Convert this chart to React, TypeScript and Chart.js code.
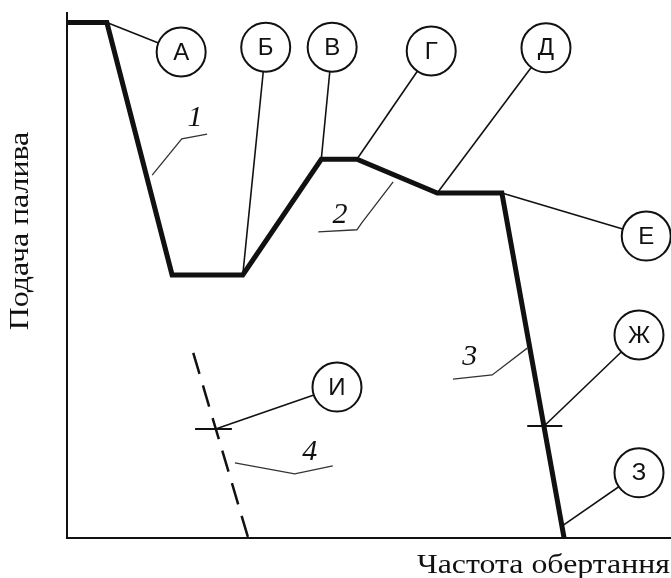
import { useEffect, useRef } from "react";
import { Chart, registerables } from "chart.js";
Chart.register(...registerables);

const W = 671;
const H = 578;

// Abstract units 0..100 on both axes (no numeric ticks on the original)
const mainX = [0, 6.6, 17.4, 29.1, 42.1, 48.0, 61.3, 72.0, 82.3];
const mainY = [98, 98, 50, 50, 72, 72, 65.6, 65.6, 0];

const dashX = [20.9, 30.0];
const dashY = [35.2, 0];

const tickIX = [21.2, 27.3];
const tickIY = 20.7;
const tickZhX = [76.2, 82.0];
const tickZhY = 21.3;

const calloutLetters = ["А", "Б", "В", "Г", "Д", "Е", "Ж", "З", "И"];
const calloutX = [18.9, 32.9, 43.9, 60.3, 79.3, 95.9, 94.7, 94.7, 44.7];
const calloutY = [92.4, 93.3, 93.3, 92.6, 93.2, 57.4, 38.6, 12.4, 28.7];
const anchorX = [6.6, 29.1, 42.1, 48.0, 61.3, 72.0, 79.0, 82.0, 24.6];
const anchorY = [98, 50, 72, 72, 65.6, 65.6, 21.3, 2.3, 20.7];

const curveLabels = ["1", "2", "3", "4"];
const curveLabelX = [21.2, 45.2, 66.7, 40.2];
const curveLabelY = [79.8, 61.4, 34.4, 16.3];
const curveLeaderX = [
  [14.1, 19.0, 23.2],
  [54.0, 48.8, 48.0, 41.6],
  [76.2, 70.4, 63.9],
  [27.8, 37.7, 44.0],
];
const curveLeaderY = [
  [69.0, 75.9, 76.8],
  [67.7, 59.9, 58.6, 58.2],
  [36.1, 31.0, 30.2],
  [14.3, 12.2, 13.7],
];

const xTitle = "Частота обертання";
const yTitle = "Подача палива";

const INK = "#111";

const pts = (xs: number[], ys: number[]) => xs.map((x, i) => ({ x, y: ys[i] }));

export default function App() {
  const ref = useRef<HTMLCanvasElement | null>(null);

  useEffect(() => {
    const canvas = ref.current;
    if (!canvas) return;

    const datasets: any[] = [];

    // callout circles (on top)
    datasets.push({
      data: pts(calloutX, calloutY),
      showLine: false,
      pointRadius: 24.5,
      pointBorderWidth: 2,
      pointBackgroundColor: "#fff",
      pointBorderColor: INK,
      order: 0,
      clip: false,
    });

    // main characteristic
    datasets.push({
      data: pts(mainX, mainY),
      showLine: true,
      borderColor: INK,
      borderWidth: 5,
      pointRadius: 0,
      borderJoinStyle: "miter",
      order: 1,
      clip: false,
    });

    // dashed line 4
    datasets.push({
      data: pts(dashX, dashY),
      showLine: true,
      borderColor: INK,
      borderWidth: 2.5,
      borderDash: [22, 12],
      pointRadius: 0,
      order: 1,
      clip: false,
    });

    // short cross ticks
    datasets.push({
      data: pts(tickIX, [tickIY, tickIY]),
      showLine: true,
      borderColor: INK,
      borderWidth: 2,
      pointRadius: 0,
      order: 1,
      clip: false,
    });
    datasets.push({
      data: pts(tickZhX, [tickZhY, tickZhY]),
      showLine: true,
      borderColor: INK,
      borderWidth: 2,
      pointRadius: 0,
      order: 1,
      clip: false,
    });

    // callout leaders
    calloutX.forEach((cx, i) => {
      datasets.push({
        data: [
          { x: anchorX[i], y: anchorY[i] },
          { x: cx, y: calloutY[i] },
        ],
        showLine: true,
        borderColor: INK,
        borderWidth: 1.6,
        pointRadius: 0,
        order: 2,
        clip: false,
      });
    });

    // curve number leaders
    curveLeaderX.forEach((xs, i) => {
      datasets.push({
        data: pts(xs, curveLeaderY[i]),
        showLine: true,
        borderColor: "#333",
        borderWidth: 1.3,
        pointRadius: 0,
        order: 2,
        clip: false,
      });
    });

    const textPlugin = {
      id: "diagramText",
      beforeDatasetsDraw(chart: any) {
        const { ctx } = chart;
        const xs = chart.scales.x;
        const ys = chart.scales.y;
        ctx.save();
        ctx.strokeStyle = INK;
        ctx.lineWidth = 2;
        ctx.beginPath();
        ctx.moveTo(xs.getPixelForValue(0), ys.getPixelForValue(100));
        ctx.lineTo(xs.getPixelForValue(0), ys.getPixelForValue(0));
        ctx.lineTo(xs.getPixelForValue(100), ys.getPixelForValue(0));
        ctx.stroke();
        ctx.restore();
      },
      afterDatasetsDraw(chart: any) {
        const { ctx, chartArea } = chart;
        const xs = chart.scales.x;
        const ys = chart.scales.y;
        ctx.save();
        ctx.fillStyle = INK;
        ctx.textAlign = "center";
        ctx.textBaseline = "middle";
        ctx.font = "24px 'Liberation Sans', Arial, sans-serif";
        calloutLetters.forEach((t, i) => {
          ctx.fillText(t, xs.getPixelForValue(calloutX[i]), ys.getPixelForValue(calloutY[i]) + 1);
        });
        ctx.font = "italic 30px 'Liberation Serif', serif";
        curveLabels.forEach((t, i) => {
          ctx.fillText(t, xs.getPixelForValue(curveLabelX[i]), ys.getPixelForValue(curveLabelY[i]));
        });
        ctx.restore();

        // axis titles (the original lettering is slightly wide)
        ctx.save();
        ctx.fillStyle = INK;
        ctx.font = "27px 'Liberation Serif', 'Times New Roman', serif";
        ctx.textAlign = "right";
        ctx.textBaseline = "alphabetic";
        ctx.translate(chartArea.right - 1, chartArea.bottom + 35);
        ctx.scale(1.18, 1);
        ctx.fillText(xTitle, 0, 0);
        ctx.restore();

        ctx.save();
        ctx.fillStyle = INK;
        ctx.font = "27px 'Liberation Serif', 'Times New Roman', serif";
        ctx.textAlign = "center";
        ctx.textBaseline = "alphabetic";
        ctx.translate(chartArea.left - 39, chartArea.top + 219);
        ctx.rotate(-Math.PI / 2);
        ctx.scale(1.18, 1);
        ctx.fillText(yTitle, 0, 0);
        ctx.restore();
      },
    };

    const chart = new Chart(canvas, {
      type: "scatter",
      data: { datasets },
      options: {
        animation: false,
        responsive: false,
        events: [],
        layout: { autoPadding: false, padding: { left: 67, right: 0, top: 12, bottom: 40 } },
        plugins: { legend: { display: false }, tooltip: { enabled: false } },
        scales: {
          x: { type: "linear", min: 0, max: 100, display: false },
          y: { type: "linear", min: 0, max: 100, display: false },
        },
      },
      plugins: [textPlugin],
    });

    return () => chart.destroy();
  }, []);

  return (
    <div style={{ position: "absolute", left: 0, top: 0, width: W, height: H, background: "#fff" }}>
      <canvas ref={ref} width={W} height={H} style={{ display: "block", width: W, height: H }} />
    </div>
  );
}
